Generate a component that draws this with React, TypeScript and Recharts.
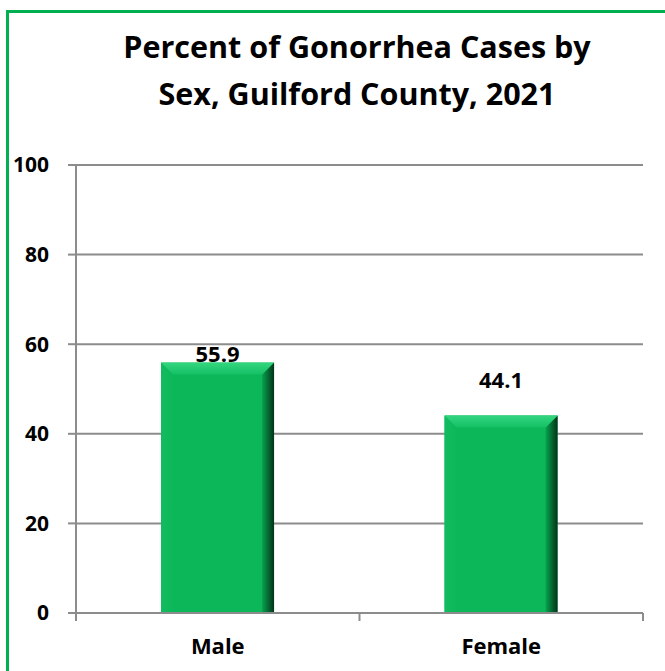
import React from 'react';
import { BarChart, Bar, XAxis, YAxis, CartesianGrid, LabelList } from 'recharts';

const categories = ['Male', 'Female'];
const percentValues = [55.9, 44.1];
const yTicks = [0, 20, 40, 60, 80, 100];
const titleLines = ['Percent of Gonorrhea Cases by', 'Sex, Guilford County, 2021'];

const data = categories.map((c, i) => ({ sex: c, pct: percentValues[i] }));

const FONT = '"Open Sans", Lato, sans-serif';
const GRID = '#8c8c8c';
const W = 665;
const H = 671;
const M = { top: 165, right: 22, bottom: 28, left: 16 };
const Y_AXIS_W = 60;
const HALF_BAND = (W - M.left - Y_AXIS_W - M.right) / categories.length / 2;
const LABEL_GAP = [1, 27];

const BevelBar = (props: any) => {
  const { x, y, width: w, height: h, index } = props;
  const b = 12;
  const id = `bv${index}`;
  return (
    <g>
      <defs>
        <linearGradient id={`${id}r`} x1="0" y1="0" x2="1" y2="0">
          <stop offset="0%" stopColor="#07a34c" />
          <stop offset="100%" stopColor="#02331a" />
        </linearGradient>
        <linearGradient id={`${id}t`} x1="0" y1="0" x2="0" y2="1">
          <stop offset="0%" stopColor="#34d67e" />
          <stop offset="100%" stopColor="#14c065" />
        </linearGradient>
        <linearGradient id={`${id}l`} x1="0" y1="0" x2="1" y2="0">
          <stop offset="0%" stopColor="#12bb5f" />
          <stop offset="100%" stopColor="#0cb85a" />
        </linearGradient>
      </defs>
      <rect x={x} y={y} width={w} height={h} fill="#0bb758" />
      <polygon points={`${x},${y} ${x + b},${y + b} ${x + b},${y + h} ${x},${y + h}`} fill={`url(#${id}l)`} />
      <polygon points={`${x + w},${y} ${x + w},${y + h} ${x + w - b},${y + h} ${x + w - b},${y + b}`} fill={`url(#${id}r)`} />
      <polygon points={`${x},${y} ${x + w},${y} ${x + w - b},${y + b} ${x + b},${y + b}`} fill={`url(#${id}t)`} />
    </g>
  );
};

const ValueLabel = (props: any) => {
  const { x, y, width, value, index } = props;
  return (
    <text
      x={x + width / 2}
      y={y - LABEL_GAP[index]}
      textAnchor="middle"
      fontFamily={FONT}
      fontWeight={700}
      fontSize={22}
      fill="#000"
    >
      {Number(value).toFixed(1)}
    </text>
  );
};

const CatTick = (props: any) => {
  const { x, y, payload, index } = props;
  const last = index === categories.length - 1;
  return (
    <g>
      <line x1={x - HALF_BAND} x2={x - HALF_BAND} y1={y} y2={y + 8} stroke={GRID} strokeWidth={2} />
      {last && <line x1={x + HALF_BAND} x2={x + HALF_BAND} y1={y} y2={y + 8} stroke={GRID} strokeWidth={2} />}
      <text x={x} y={y + 41} textAnchor="middle" fontFamily={FONT} fontWeight={700} fontSize={22} fill="#000">
        {payload.value}
      </text>
    </g>
  );
};

export default function App() {
  return (
    <div style={{ position: 'fixed', left: 0, top: 0, width: W, height: H, overflow: 'hidden', background: '#fff' }}>
      <div
        style={{
          position: 'absolute',
          left: 6,
          top: 10,
          width: 720,
          height: 720,
          border: '3px solid #00b050',
          boxSizing: 'border-box',
        }}
      />
      <svg width={W} height={130} style={{ position: 'absolute', left: 0, top: 0 }}>
        {titleLines.map((t, i) => (
          <text
            key={i}
            x={357}
            y={58 + i * 47}
            textAnchor="middle"
            fontFamily={FONT}
            fontWeight={700}
            fontSize={30.5}
            fill="#000"
          >
            {t}
          </text>
        ))}
      </svg>
      <div style={{ position: 'absolute', left: 0, top: 0 }}>
        <BarChart width={W} height={H} data={data} margin={M} barCategoryGap="30%">
          <CartesianGrid vertical={false} stroke={GRID} strokeWidth={2} />
          <XAxis
            dataKey="sex"
            height={30}
            tickSize={0}
            tickMargin={0}
            tickLine={false}
            axisLine={{ stroke: GRID, strokeWidth: 2 }}
            tick={<CatTick />}
            interval={0}
          />
          <YAxis
            domain={[0, 100]}
            ticks={yTicks}
            width={Y_AXIS_W}
            tickSize={8}
            tickMargin={19}
            axisLine={{ stroke: GRID, strokeWidth: 2 }}
            tickLine={{ stroke: GRID, strokeWidth: 2 }}
            tick={{ fill: '#000', fontSize: 21, fontWeight: 700, fontFamily: FONT }}
          />
          <Bar dataKey="pct" shape={<BevelBar />} isAnimationActive={false}>
            <LabelList dataKey="pct" content={<ValueLabel />} />
          </Bar>
        </BarChart>
      </div>
    </div>
  );
}
